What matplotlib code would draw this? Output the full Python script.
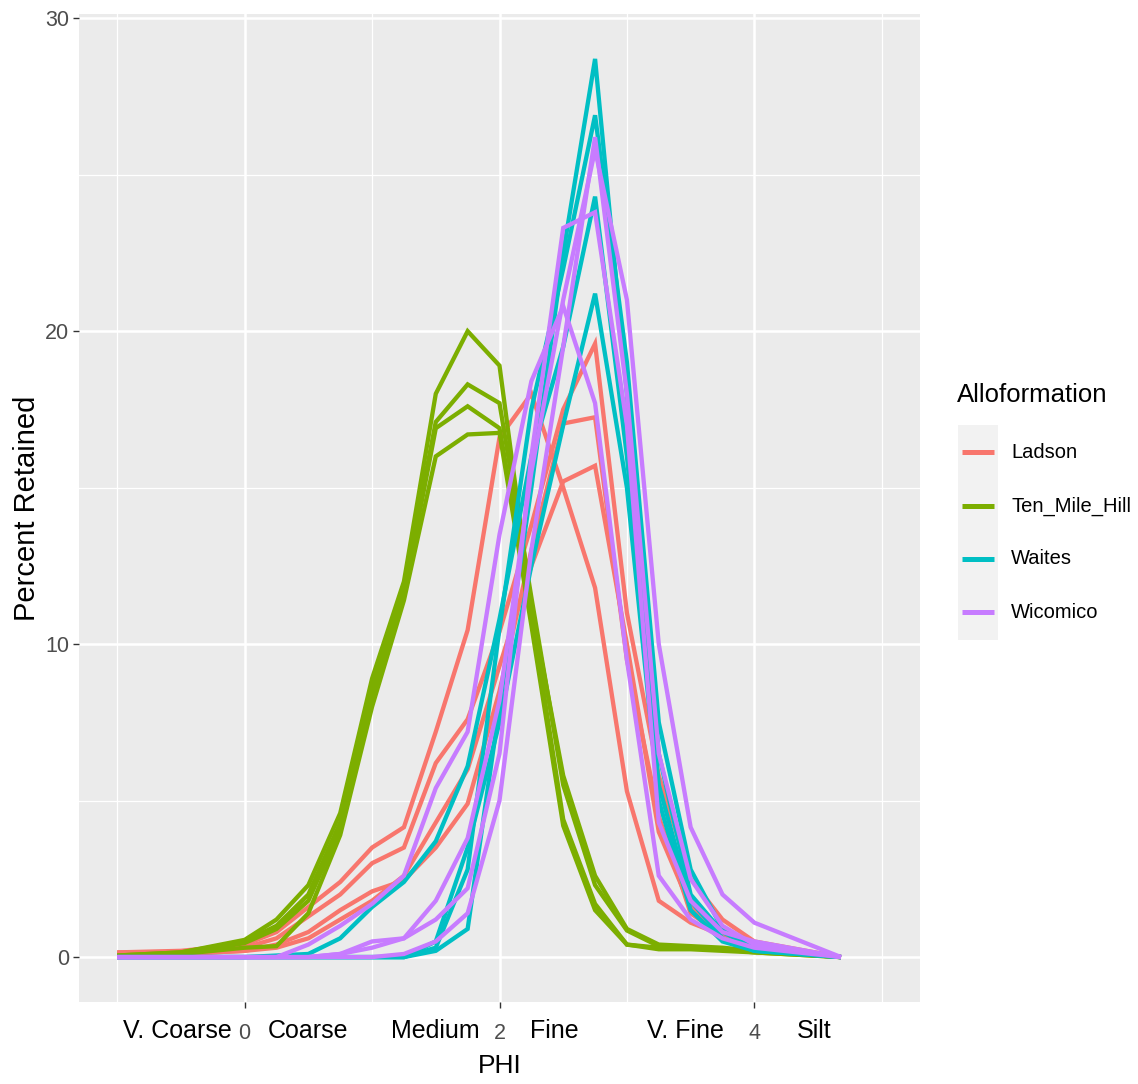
import matplotlib
matplotlib.use('Agg')
import matplotlib.pyplot as plt
from matplotlib.lines import Line2D
from matplotlib.patches import Rectangle
import matplotlib.transforms as mtransforms

FONT = ['Liberation Sans', 'DejaVu Sans']

# ---- data ----
phi = [-1, -0.5, 0, 0.25, 0.5, 0.75, 1, 1.25, 1.5, 1.75, 2, 2.25, 2.5, 2.75,
       3, 3.25, 3.5, 3.75, 4, 4.68]

ladson = [
    [0.15, 0.2, 0.4, 0.8, 1.6, 2.4, 3.5, 4.15, 7.2, 10.45, 16.6, 18.0, 15.0, 11.8, 5.3, 1.8, 1.1, 0.7, 0.4, 0.0],
    [0.15, 0.15, 0.3, 0.6, 1.3, 2.0, 3.0, 3.5, 6.2, 7.6, 10.4, 13.8, 17.5, 19.6, 11.0, 5.8, 2.5, 1.2, 0.5, 0.0],
    [0.1, 0.1, 0.2, 0.4, 0.8, 1.5, 2.1, 2.45, 3.5, 4.9, 8.5, 13.0, 17.05, 17.25, 9.5, 4.5, 1.4, 0.7, 0.3, 0.0],
    [0.1, 0.1, 0.2, 0.3, 0.6, 1.2, 1.8, 2.6, 4.3, 6.0, 9.3, 12.5, 15.2, 15.7, 10.0, 4.0, 1.6, 0.8, 0.4, 0.0],
]
ten_mile_hill = [
    [0.05, 0.15, 0.55, 1.2, 2.3, 4.6, 8.9, 12.0, 18.0, 20.0, 18.9, 11.2, 5.8, 2.6, 0.9, 0.4, 0.35, 0.3, 0.2, 0.0],
    [0.05, 0.15, 0.5, 1.0, 2.0, 4.3, 8.6, 11.8, 17.1, 18.3, 17.7, 11.5, 5.5, 2.3, 0.85, 0.35, 0.3, 0.25, 0.2, 0.0],
    [0.0, 0.1, 0.45, 0.9, 1.8, 4.1, 8.3, 11.6, 16.9, 17.6, 16.9, 11.0, 4.4, 1.7, 0.4, 0.3, 0.3, 0.25, 0.15, 0.0],
    [0.0, 0.1, 0.3, 0.35, 1.4, 3.9, 8.0, 11.4, 16.0, 16.7, 16.75, 10.6, 4.2, 1.5, 0.4, 0.25, 0.25, 0.2, 0.15, 0.0],
]
waites = [
    [0, 0, 0, 0, 0, 0, 0, 0, 0.2, 0.9, 8.0, 15.0, 22.5, 28.7, 18.0, 6.5, 2.0, 0.8, 0.3, 0.0],
    [0, 0, 0, 0, 0, 0, 0, 0, 0.3, 2.8, 10.5, 17.5, 22.0, 26.9, 19.0, 7.5, 2.8, 0.9, 0.4, 0.0],
    [0, 0, 0, 0.05, 0.1, 0.6, 1.6, 2.4, 3.7, 6.1, 10.8, 16.0, 19.5, 24.3, 16.0, 5.5, 1.8, 0.6, 0.2, 0.0],
    [0, 0, 0, 0, 0, 0, 0, 0, 0.5, 3.5, 7.5, 12.5, 17.0, 21.2, 15.0, 5.0, 1.5, 0.5, 0.2, 0.0],
]
wicomico = [
    [0, 0, 0, 0, 0, 0, 0, 0.1, 0.5, 1.4, 5.0, 13.0, 19.5, 26.2, 18.0, 6.5, 2.5, 1.0, 0.4, 0.0],
    [0, 0, 0, 0, 0, 0.1, 0.5, 0.6, 1.2, 2.2, 6.5, 16.0, 23.3, 23.8, 17.0, 4.3, 1.8, 0.8, 0.5, 0.0],
    [0, 0, 0, 0.0, 0.4, 1.0, 1.7, 2.6, 5.4, 7.2, 13.5, 18.4, 20.8, 17.7, 9.5, 2.6, 1.2, 0.6, 0.3, 0.0],
    [0, 0, 0, 0, 0, 0.1, 0.3, 0.6, 1.8, 3.8, 8.2, 15.5, 21.0, 25.8, 21.0, 10.0, 4.15, 2.0, 1.1, 0.0],
]

groups = ['Ladson', 'Ten_Mile_Hill', 'Waites', 'Wicomico']
colors = ['#F8766D', '#7CAE00', '#00BFC4', '#C77CFF']
series = [ladson, ten_mile_hill, waites, wicomico]

size_labels = ['V. Coarse', 'Coarse', 'Medium', 'Fine', 'V. Fine', 'Silt']
size_pos = [-0.53, 0.5, 1.5, 2.43, 3.46, 4.47]
xtick_vals = [0, 2, 4]
ytick_vals = [0, 10, 20, 30]

# ---- figure ----
W, H = 1138, 1084
fig = plt.figure(figsize=(W / 100, H / 100), dpi=100)
ax = fig.add_axes([79 / W, 82 / H, 841 / W, 988 / H])
ax.set_facecolor('#EBEBEB')
for s in ax.spines.values():
    s.set_visible(False)

ax.set_xlim(-1.3, 5.3)
ax.set_ylim(-1.435, 30.135)

for v in [5, 15, 25]:
    ax.axhline(v, color='white', lw=0.9, zorder=0.5)
for v in ytick_vals:
    ax.axhline(v, color='white', lw=1.8, zorder=0.6)
for v in [-1, 1, 3, 5]:
    ax.axvline(v, color='white', lw=0.9, zorder=0.5)
for v in xtick_vals:
    ax.axvline(v, color='white', lw=1.8, zorder=0.6)

for grp, col, lines in zip(groups, colors, series):
    for ys in lines:
        ax.plot(phi, ys, color=col, lw=3.1, solid_joinstyle='miter',
                solid_capstyle='butt', zorder=2)

ax.set_xticks(xtick_vals)
ax.set_xticklabels([str(v) for v in xtick_vals])
ax.set_yticks(ytick_vals)
ax.set_yticklabels([str(v) for v in ytick_vals])
ax.tick_params(axis='both', length=4, width=1.0, color='#333333',
               labelcolor='#4D4D4D', labelsize=15.5)
ax.tick_params(axis='x', pad=11)
ax.tick_params(axis='y', pad=3)
for lab in ax.get_xticklabels() + ax.get_yticklabels():
    lab.set_family(FONT)

trans = mtransforms.blended_transform_factory(ax.transData, ax.transAxes)
for lab, xp in zip(size_labels, size_pos):
    ax.text(xp, -0.029, lab, transform=trans, ha='center', va='center',
            fontsize=18, family=FONT, color='black', clip_on=False)

fig.text(500 / W, 1 - 1066 / H, 'PHI', ha='center', va='center',
         fontsize=19, family=FONT, color='black')
fig.text(27 / W, 1 - 508 / H, 'Percent Retained', ha='center', va='center',
         rotation=90, fontsize=21, family=FONT, color='black')

# ---- legend ----
fig.text(957 / W, 1 - 395 / H, 'Alloformation', ha='left', va='center',
         fontsize=18.5, family=FONT, color='black')
fig.add_artist(Rectangle((958 / W, 1 - 640 / H), 40 / W, 215 / H,
                         transform=fig.transFigure, facecolor='#F2F2F2',
                         edgecolor='none'))
key_y = [452, 506, 559, 612]
for grp, col, ky in zip(groups, colors, key_y):
    yf = 1 - ky / H
    fig.add_artist(Line2D([962 / W, 994 / W], [yf, yf], transform=fig.transFigure,
                          color=col, lw=3.6, solid_capstyle='butt'))
    fig.text(1011 / W, yf, grp, ha='left', va='center', fontsize=14.5,
             family=FONT, color='black')

fig.savefig('out.png', dpi=100)
